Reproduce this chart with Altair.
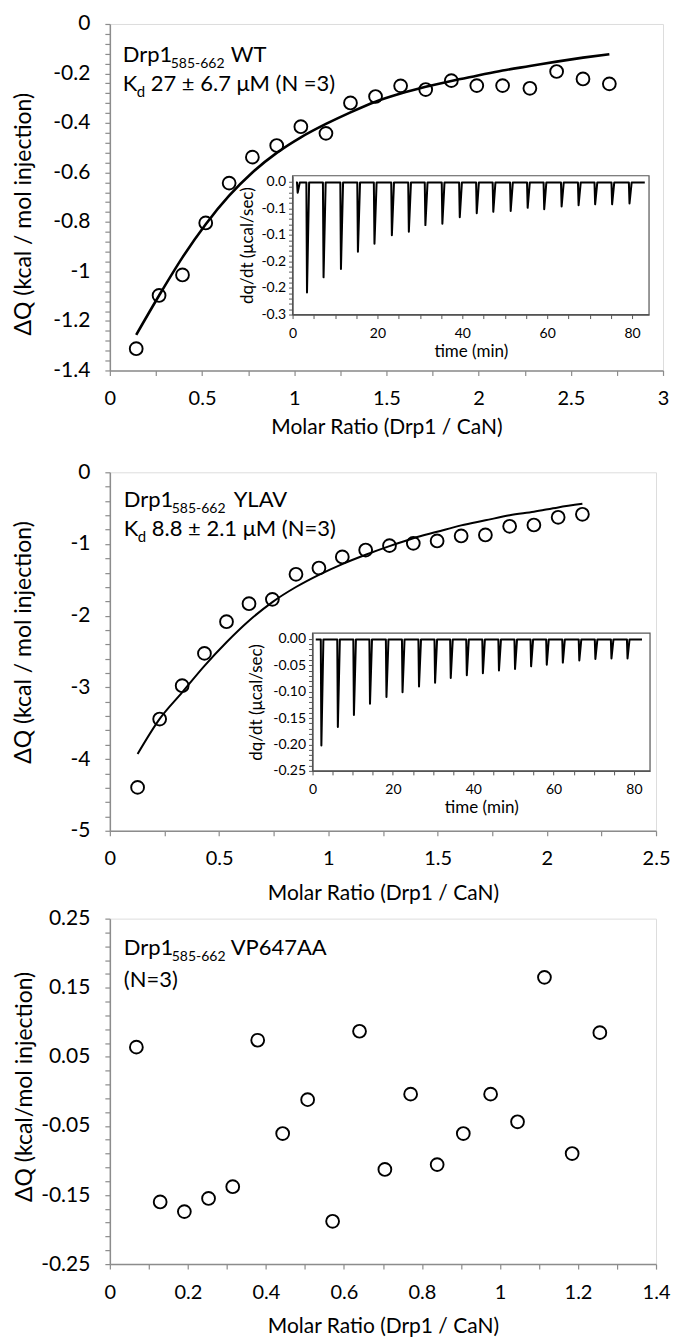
import json
import altair as alt
import pandas as pd

FONT = "Lato"
GRAY = "#8c8c8c"
INSET_GRAY = "#555555"

# ---------------- Panel 1: Drp1 585-662 WT ----------------
WT_RATIO = [0.143, 0.267, 0.394, 0.520, 0.647, 0.773, 0.905, 1.036, 1.172, 1.305,
            1.441, 1.577, 1.713, 1.852, 1.990, 2.130, 2.278, 2.423, 2.566, 2.709]
WT_DQ = [-1.312, -1.097, -1.014, -0.804, -0.643, -0.538, -0.491, -0.415, -0.442, -0.319,
         -0.293, -0.250, -0.265, -0.229, -0.249, -0.249, -0.260, -0.192, -0.222, -0.242]
WT_FIT = [-1.256, -1.097, -0.943, -0.809, -0.694, -0.600, -0.521, -0.458, -0.404, -0.357,
          -0.314, -0.281, -0.254, -0.230, -0.209, -0.188, -0.170, -0.152, -0.136, -0.122]
WT_INJ_T = [1.2, 3.4, 7.3, 11.4, 15.4, 19.3, 23.4, 27.4, 31.3, 35.3, 39.4,
            43.4, 47.3, 51.4, 55.4, 59.3, 63.4, 67.4, 71.3, 75.3, 79.4]
WT_INJ_PEAK = [-0.025, -0.250, -0.216, -0.197, -0.158, -0.140, -0.121, -0.113, -0.098, -0.095, -0.080,
               -0.071, -0.068, -0.066, -0.059, -0.062, -0.056, -0.053, -0.051, -0.051, -0.049]

# ---------------- Panel 2: Drp1 585-662 YLAV ----------------
YLAV_RATIO = [0.127, 0.228, 0.331, 0.433, 0.534, 0.637, 0.744, 0.852, 0.957, 1.064,
              1.171, 1.280, 1.389, 1.498, 1.608, 1.719, 1.830, 1.941, 2.052, 2.163]
YLAV_DQ = [-4.395, -3.442, -2.977, -2.526, -2.084, -1.833, -1.772, -1.423, -1.335, -1.181,
           -1.084, -1.023, -0.991, -0.958, -0.888, -0.874, -0.753, -0.735, -0.628, -0.586]
YLAV_FIT = [-3.93, -3.44, -3.07, -2.70, -2.37, -2.07, -1.81, -1.60, -1.43, -1.28,
            -1.15, -1.03, -0.92, -0.83, -0.74, -0.67, -0.60, -0.55, -0.49, -0.44]
YLAV_INJ_T = [2.2, 6.3, 10.3, 14.3, 18.4, 22.4, 26.5, 30.5, 34.4, 38.4,
              42.4, 46.4, 50.4, 54.4, 58.3, 62.3, 66.4, 70.4, 74.4, 78.4]
YLAV_INJ_PEAK = [-0.202, -0.167, -0.144, -0.123, -0.110, -0.101, -0.090, -0.083, -0.074, -0.069,
                 -0.065, -0.060, -0.057, -0.052, -0.049, -0.045, -0.041, -0.038, -0.037, -0.037]

# ---------------- Panel 3: Drp1 585-662 VP647AA ----------------
VP_RATIO = [0.068, 0.129, 0.191, 0.253, 0.315, 0.379, 0.443, 0.507, 0.571, 0.640,
            0.705, 0.771, 0.839, 0.906, 0.976, 1.045, 1.114, 1.185, 1.256]
VP_DQ = [0.064, -0.160, -0.174, -0.155, -0.138, 0.074, -0.061, -0.012, -0.188, 0.087,
         -0.113, -0.004, -0.106, -0.061, -0.004, -0.044, 0.165, -0.090, 0.085]

# ---------------- axis ticks / labels ----------------
P1_X_MAJOR = [0, 0.5, 1, 1.5, 2, 2.5, 3]
P1_X_LABELS = ["0", "0.5", "1", "1.5", "2", "2.5", "3"]
P1_Y_MAJOR = [0, -0.2, -0.4, -0.6, -0.8, -1, -1.2, -1.4]
P1_Y_LABELS = ["0", "-0.2", "-0.4", "-0.6", "-0.8", "-1", "-1.2", "-1.4"]
I1_X_MAJOR = [0, 20, 40, 60, 80]
I1_X_LABELS = ["0", "20", "40", "60", "80"]
I1_Y_MAJOR = [0, -0.06, -0.12, -0.18, -0.24, -0.3]
I1_Y_LABELS = ["0.0", "-0.1", "-0.1", "-0.2", "-0.2", "-0.3"]

P2_X_MAJOR = [0, 0.5, 1, 1.5, 2, 2.5]
P2_X_LABELS = ["0", "0.5", "1", "1.5", "2", "2.5"]
P2_Y_MAJOR = [0, -1, -2, -3, -4, -5]
P2_Y_LABELS = ["0", "-1", "-2", "-3", "-4", "-5"]
I2_X_MAJOR = [0, 20, 40, 60, 80]
I2_X_LABELS = ["0", "20", "40", "60", "80"]
I2_Y_MAJOR = [0, -0.05, -0.1, -0.15, -0.2, -0.25]
I2_Y_LABELS = ["0.00", "-0.05", "-0.10", "-0.15", "-0.20", "-0.25"]

P3_X_MAJOR = [0, 0.2, 0.4, 0.6, 0.8, 1, 1.2, 1.4]
P3_X_LABELS = ["0", "0.2", "0.4", "0.6", "0.8", "1", "1.2", "1.4"]
P3_Y_MAJOR = [0.25, 0.15, 0.05, -0.05, -0.15, -0.25]
P3_Y_LABELS = ["0.25", "0.15", "0.05", "-0.05", "-0.15", "-0.25"]


def steps(a, b, step, nd=4):
    n = int(round((b - a) / step))
    return [round(a + i * step, nd) for i in range(n + 1)]


def label_expr(major, labels):
    m = json.dumps(major)
    lab = json.dumps(labels)
    return f"indexof({m}, datum.value) >= 0 ? {lab}[indexof({m}, datum.value)] : ''"


def main_x_axis(major, labels, minor, title_y):
    return alt.Axis(values=minor, labelExpr=label_expr(major, labels), grid=False,
                    title="Molar Ratio (Drp1 / CaN)", tickSize=5, tickWidth=1.2,
                    tickColor=GRAY, domainColor=GRAY, domainWidth=1.5,
                    labelFont=FONT, labelFontSize=20, labelColor="black", labelPadding=13,
                    labelFlush=False, labelOverlap=False,
                    titleFont=FONT, titleFontSize=21, titleFontWeight="normal",
                    titleColor="black", titleY=title_y, zindex=1)


def main_y_axis(major, labels, minor, title, tx, ty):
    return alt.Axis(values=minor, labelExpr=label_expr(major, labels), grid=False,
                    title=title, tickSize=5, tickWidth=1.2,
                    tickColor=GRAY, domainColor=GRAY, domainWidth=1.5,
                    labelFont=FONT, labelFontSize=21, labelColor="black", labelPadding=15,
                    labelOverlap=False, labelFlush=False,
                    titleFont=FONT, titleFontSize=23, titleFontWeight="normal",
                    titleColor="black", titleX=tx, titleY=ty, zindex=1)


def texts(items):
    layers = []
    for txt, x, y, size in items:
        layers.append(
            alt.Chart(pd.DataFrame({"t": [txt]})).mark_text(
                align="left", baseline="alphabetic", font=FONT, fontSize=size, color="black"
            ).encode(x=alt.value(x), y=alt.value(y), text="t:N")
        )
    return layers


def inset(W, H, box, xdom, ydom, xmaj, xlab, xmin, ymaj, ylab, ymin, inj_t, inj_peak,
          t0, t1, base, ytitle_x):
    il, ir, it, ib = box
    ts, vs = [t0], [base]
    for t, p in zip(inj_t, inj_peak):
        ts += [t - 0.15, t, t + 0.5]
        vs += [base, p, base]
    ts.append(t1)
    vs.append(base)
    trace = pd.DataFrame({"t": ts, "v": vs, "o": list(range(len(ts)))})
    frame = pd.DataFrame({"x": [xdom[0]], "x2": [xdom[1]], "y": [ydom[0]], "y2": [ydom[1]]})

    xs = alt.Scale(domain=xdom, range=[il, ir], nice=False, zero=False)
    ys = alt.Scale(domain=ydom, range=[ib, it], nice=False, zero=False)
    xa = alt.Axis(orient="bottom", offset=ib - H, values=xmin, labelExpr=label_expr(xmaj, xlab),
                  grid=False, title="time (min)", tickSize=4, tickColor=INSET_GRAY,
                  domainColor=INSET_GRAY, domainWidth=1.2, labelFont=FONT, labelFontSize=14,
                  labelColor="black", labelPadding=8, labelFlush=False, labelOverlap=False,
                  titleFont=FONT, titleFontSize=17, titleFontWeight="normal",
                  titleColor="black", titleY=29, zindex=2)
    ya = alt.Axis(orient="left", offset=-il, values=ymin, labelExpr=label_expr(ymaj, ylab),
                  grid=False, title="dq/dt (μcal/sec)", tickSize=4, tickColor=INSET_GRAY,
                  domainColor=INSET_GRAY, domainWidth=1.2, labelFont=FONT, labelFontSize=14,
                  labelColor="black", labelPadding=3, labelFlush=False, labelOverlap=False,
                  titleFont=FONT, titleFontSize=17, titleFontWeight="normal",
                  titleColor="black", titleX=ytitle_x, zindex=2)
    rect = alt.Chart(frame).mark_rect(fill="white", stroke=INSET_GRAY, strokeWidth=1.2).encode(
        x=alt.X("x:Q", scale=xs, axis=xa), x2="x2:Q",
        y=alt.Y("y:Q", scale=ys, axis=ya), y2="y2:Q")
    line = alt.Chart(trace).mark_line(color="black", strokeWidth=2.0, strokeJoin="round").encode(
        x=alt.X("t:Q", scale=xs, axis=xa), y=alt.Y("v:Q", scale=ys, axis=ya), order="o:Q")
    return alt.layer(rect, line)


def main_layer(ratio, dq, fit, xdom, ydom, xaxis, yaxis, line_w, extra):
    df = pd.DataFrame({"ratio": ratio, "dq": dq})
    xs = alt.Scale(domain=xdom, nice=False, zero=False)
    ys = alt.Scale(domain=ydom, nice=False, zero=False)
    layers = []
    if fit is not None:
        fdf = pd.DataFrame({"ratio": ratio, "dq": fit})
        layers.append(alt.Chart(fdf).mark_line(color="black", strokeWidth=line_w,
                                               interpolate="monotone").encode(
            x=alt.X("ratio:Q", scale=xs, axis=xaxis), y=alt.Y("dq:Q", scale=ys, axis=yaxis)))
    layers.append(alt.Chart(df).mark_point(shape="circle", filled=False, color="black", size=165,
                                           strokeWidth=1.9, opacity=1).encode(
        x=alt.X("ratio:Q", scale=xs, axis=xaxis), y=alt.Y("dq:Q", scale=ys, axis=yaxis)))
    layers += extra
    return alt.layer(*layers)


# ---------------- Panel 1 ----------------
W1, H1 = 554, 347
p1_main = main_layer(
    WT_RATIO, WT_DQ, WT_FIT, [0, 3], [-1.4, 0],
    main_x_axis(P1_X_MAJOR, P1_X_LABELS, steps(0, 3, 0.25), 46),
    main_y_axis(P1_Y_MAJOR, P1_Y_LABELS, steps(-1.4, 0, 0.04), "ΔQ (kcal / mol injection)", -74, 190),
    2.6,
    texts([("Drp1", 13, 38, 22), ("585-662", 61, 44, 14), ("WT", 121, 38, 22),
           ("K", 13, 67, 22), ("d", 27, 73, 15), ("27 ± 6.7 μM (N =3)", 41, 67, 22)])
    + [alt.Chart(pd.DataFrame({"a": [0]})).mark_rule(opacity=0).encode(
        x=alt.value(0), y=alt.value(H1 + 40), y2=alt.value(H1 + 87))]
)
p1_inset = inset(W1, H1, (183, 540, 152, 291), [0, 84], [-0.3, 0.0135],
                 I1_X_MAJOR, I1_X_LABELS, steps(0, 80, 5), I1_Y_MAJOR, I1_Y_LABELS,
                 steps(-0.3, 0, 0.012), WT_INJ_T, WT_INJ_PEAK, 0.8, 83, -0.002, -36)
p1 = alt.layer(p1_main, p1_inset).resolve_scale(x="independent", y="independent").properties(
    width=W1, height=H1)

# ---------------- Panel 2 ----------------
W2, H2 = 547, 359
p2_main = main_layer(
    YLAV_RATIO, YLAV_DQ, YLAV_FIT, [0, 2.5], [-5, 0],
    main_x_axis(P2_X_MAJOR, P2_X_LABELS, steps(0, 2.5, 0.25), 52),
    main_y_axis(P2_Y_MAJOR, P2_Y_LABELS, steps(-5, 0, 0.2), "ΔQ (kcal / mol injection)", -74, 170),
    2.0,
    texts([("Drp1", 14, 35, 22), ("585-662", 62, 41, 14), ("YLAV", 124, 35, 22),
           ("K", 14, 64, 22), ("d", 28, 70, 15), ("8.8 ± 2.1 μM (N=3)", 42, 64, 22)])
)
p2_inset = inset(W2, H2, (203, 541, 161, 299), [0, 84], [-0.25, 0.011],
                 I2_X_MAJOR, I2_X_LABELS, steps(0, 80, 5), I2_Y_MAJOR, I2_Y_LABELS,
                 steps(-0.25, 0, 0.01), YLAV_INJ_T, YLAV_INJ_PEAK, 0.8, 82, -0.001, -47)
p2 = alt.layer(p2_main, p2_inset).resolve_scale(x="independent", y="independent").properties(
    width=W2, height=H2)

# ---------------- Panel 3 ----------------
W3, H3 = 547, 346
p3 = main_layer(
    VP_RATIO, VP_DQ, None, [0, 1.4], [-0.25, 0.25],
    main_x_axis(P3_X_MAJOR, P3_X_LABELS, steps(0, 1.4, 0.1), 51),
    main_y_axis(P3_Y_MAJOR, P3_Y_LABELS, steps(-0.25, 0.25, 0.02), "ΔQ (kcal/mol injection)", -73, 168),
    2.0,
    texts([("Drp1", 14, 36, 22), ("585-662", 62, 42, 14), ("VP647AA", 121, 36, 22),
           ("(N=3)", 14, 68, 22)])
).properties(width=W3, height=H3)

chart = alt.vconcat(p1, p2, p3, spacing=2).properties(
    padding={"left": 4, "top": 3, "right": 0, "bottom": 0}
).configure_view(stroke=GRAY, strokeWidth=1.5).configure(background="white")

chart.save("out.html", embed_options={"renderer": "svg", "actions": False})
